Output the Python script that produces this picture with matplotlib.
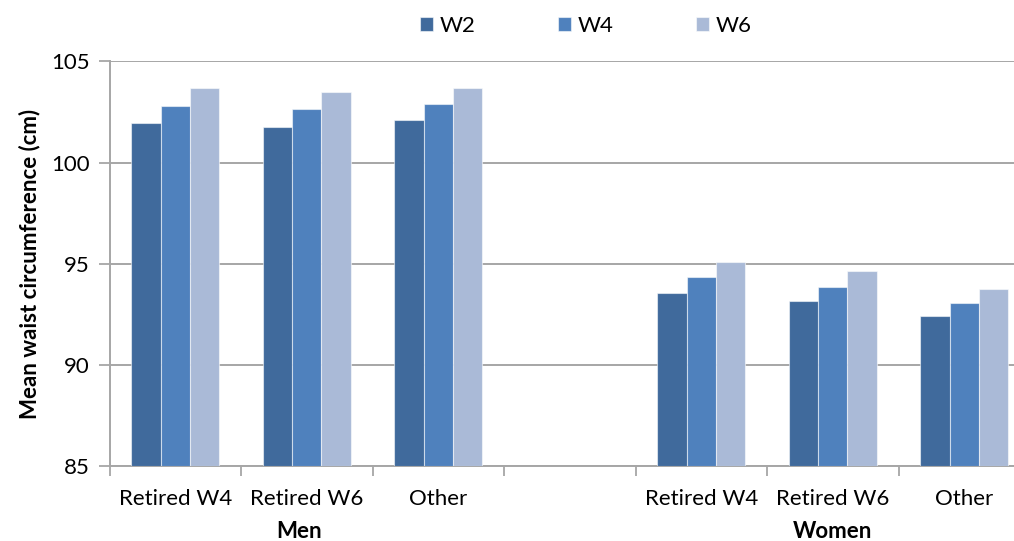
import matplotlib
matplotlib.use("Agg")
import matplotlib.pyplot as plt
import numpy as np

categories = ["Retired W4", "Retired W6", "Other", "", "Retired W4", "Retired W6", "Other"]
groups = ["Men", "Women"]
series = ["W2", "W4", "W6"]
w2 = [101.94, 101.75, 102.11, np.nan, 93.55, 93.16, 92.42]
w4 = [102.81, 102.65, 102.91, np.nan, 94.33, 93.88, 93.08]
w6 = [103.67, 103.49, 103.70, np.nan, 95.10, 94.64, 93.75]
colors = ["#406A9C", "#4F81BD", "#AABAD7"]
yticks = [85, 90, 95, 100, 105]

plt.rcParams["font.family"] = ["Lato", "DejaVu Sans"]

fig = plt.figure(figsize=(10.14, 5.41), dpi=100)
ax = fig.add_axes([0.108, 0.138, 0.9078, 0.7487])

x = np.arange(len(categories))
bw = 0.223
for i, (vals, c, name) in enumerate(zip([w2, w4, w6], colors, series)):
    ax.bar(x + (i - 1) * bw, np.array(vals) - 85, bottom=85, width=bw,
           color=c, edgecolor=(1, 1, 1, 0.55), linewidth=0.8, label=name, zorder=3)

ax.set_xlim(-0.5, len(categories) - 0.5)
ax.set_ylim(85, 105)
ax.set_yticks(yticks)
ax.yaxis.grid(True, color="#A6A6A6", linewidth=1.4, zorder=0)
ax.set_axisbelow(True)

# category labels sit between boundary ticks
ax.set_xticks(np.arange(-0.5, len(categories), 1.0))
ax.set_xticklabels([])
ax.set_xticks(x, minor=True)
ax.set_xticklabels(categories, minor=True, fontsize=16)
ax.tick_params(axis="x", which="minor", length=0, pad=16)
ax.tick_params(axis="x", which="major", length=7, width=1.3, color="#A6A6A6", direction="out")
ax.tick_params(axis="y", length=8, width=1.3, color="#A6A6A6", labelsize=16, pad=6)

for s in ["top", "right"]:
    ax.spines[s].set_visible(False)
for s in ["left", "bottom"]:
    ax.spines[s].set_color("#A6A6A6")
    ax.spines[s].set_linewidth(1.4)

ax.set_ylabel("Mean waist circumference (cm)", fontsize=16, fontweight="bold", labelpad=8)

for label, pos in zip(groups, [0.94, 5.0]):
    ax.text(pos, -0.161, label, transform=ax.get_xaxis_transform(), ha="center", va="center",
            fontsize=16, fontweight="bold")

ax.legend(loc="center", bbox_to_anchor=(586 / 1014, 1 - 26 / 541), bbox_transform=fig.transFigure,
          ncol=3, frameon=False, fontsize=16, handlelength=0.6, handleheight=0.6,
          handletextpad=0.3, columnspacing=3.7)

fig.savefig("out.png", dpi=100)
